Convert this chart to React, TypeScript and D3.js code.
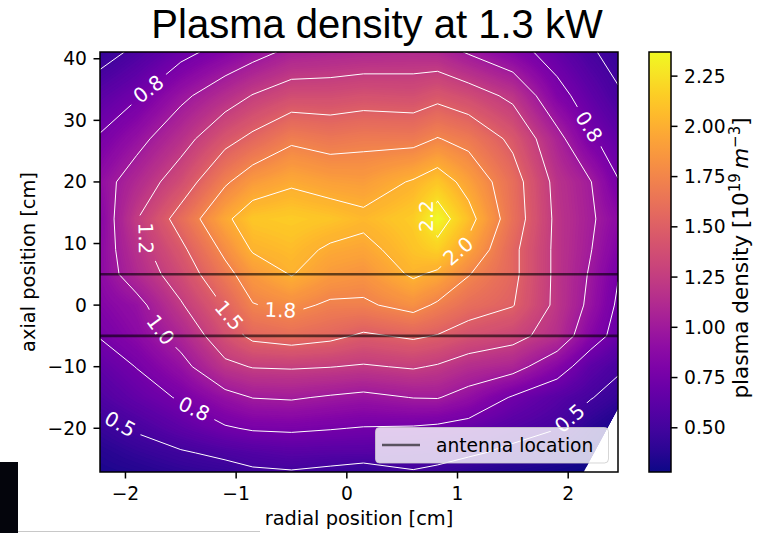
import React, { useMemo } from 'react';
import * as d3 from 'd3';

// ---------- data ----------
const xCols = [-2.23, -1.9, -1.5, -1.1, -0.85, -0.5, -0.15, 0.15, 0.6, 0.82, 1.1, 1.5, 1.9, 2.2, 2.45];
const yRows = [41.1, 34, 27, 20, 14, 9, 5, 0, -5, -10, -15, -20, -24, -27.1];
const density: number[][] = [
  [0.42, 0.54, 0.69, 0.83, 0.92, 1.05, 1.08, 1.10, 1.12, 1.10, 0.98, 0.83, 0.66, 0.52, 0.44],
  [0.62, 0.73, 0.95, 1.14, 1.26, 1.37, 1.37, 1.40, 1.38, 1.44, 1.36, 1.20, 0.82, 0.65, 0.52],
  [0.77, 0.93, 1.16, 1.43, 1.55, 1.71, 1.66, 1.69, 1.68, 1.76, 1.68, 1.45, 1.07, 0.78, 0.65],
  [0.91, 1.11, 1.37, 1.72, 1.88, 1.97, 1.91, 1.89, 2.02, 2.12, 1.92, 1.60, 1.18, 1.01, 0.76],
  [0.85, 1.24, 1.59, 1.96, 2.12, 2.15, 2.11, 2.05, 2.15, 2.37, 2.08, 1.62, 1.20, 1.03, 0.88],
  [0.88, 1.16, 1.45, 1.80, 2.02, 2.07, 1.97, 1.94, 2.10, 2.17, 1.93, 1.55, 1.20, 1.01, 0.82],
  [0.88, 1.11, 1.36, 1.68, 1.87, 2.01, 1.88, 1.84, 2.03, 1.96, 1.76, 1.55, 1.20, 0.98, 0.76],
  [0.83, 0.93, 1.23, 1.52, 1.74, 1.80, 1.72, 1.72, 1.82, 1.72, 1.60, 1.51, 1.20, 0.95, 0.72],
  [0.76, 0.87, 1.08, 1.39, 1.55, 1.60, 1.55, 1.47, 1.53, 1.49, 1.40, 1.32, 1.15, 0.85, 0.68],
  [0.65, 0.755, 0.93, 1.20, 1.26, 1.27, 1.255, 1.23, 1.27, 1.23, 1.14, 1.08, 0.85, 0.63, 0.53],
  [0.56, 0.66, 0.77, 0.93, 1.005, 1.02, 0.98, 0.95, 1.005, 1.01, 0.92, 0.73, 0.60, 0.51, 0.43],
  [0.44, 0.52, 0.63, 0.73, 0.77, 0.78, 0.76, 0.74, 0.73, 0.71, 0.67, 0.58, 0.505, 0.38, 0.30],
  [0.36, 0.42, 0.48, 0.54, 0.57, 0.60, 0.59, 0.59, 0.57, 0.56, 0.53, 0.45, 0.38, 0.32, 0.29],
  [0.32, 0.35, 0.40, 0.43, 0.475, 0.488, 0.46, 0.42, 0.49, 0.465, 0.39, 0.33, 0.30, 0.28, 0.28],
];
const contourLevels = [0.5, 0.75, 1.0, 1.25, 1.5, 1.75, 2.0, 2.25];
const contourLabelText = ['0.5', '0.8', '1.0', '1.2', '1.5', '1.8', '2.0', '2.2'];
const labelLevels = [0.75, 0.75, 1.25, 1.0, 1.5, 1.75, 2.25, 2.0, 0.75, 0.5, 0.5];
const labelX = [-1.78, 2.21, -1.81, -1.64, -1.06, -0.61, 0.67, 0.96, -1.39, -2.05, 1.97];
const labelY = [34.8, 29.2, 10.9, -3.6, -1.6, -1.6, 15.1, 9.7, -17.2, -19.4, -17.5];
const xTicks = [-2, -1, 0, 1, 2];
const yTicks = [-20, -10, 0, 10, 20, 30, 40];
const cbTicks = [0.5, 0.75, 1.0, 1.25, 1.5, 1.75, 2.0, 2.25];
const cbTickLabels = ['0.50', '0.75', '1.00', '1.25', '1.50', '1.75', '2.00', '2.25'];
const antennaY = [5, -5];
const hullX = [-2.23, 2.45, 2.45, 2.14, -2.23];
const hullY = [41.1, 41.1, -16.7, -27.1, -27.1];

const fmtTick = (v: number) => (v < 0 ? '\u2212' + Math.abs(v) : String(v));

type Pt = [number, number];

function chain(segs: [Pt, Pt][]): Pt[][] {
  const key = (p: Pt) => p[0].toFixed(3) + ',' + p[1].toFixed(3);
  const adj = new Map<string, number[]>();
  segs.forEach((s, k) => {
    for (const p of s) {
      const kk = key(p);
      if (!adj.has(kk)) adj.set(kk, []);
      adj.get(kk)!.push(k);
    }
  });
  const used = new Array(segs.length).fill(false);
  const lines: Pt[][] = [];
  const extend = (arr: Pt[]) => {
    for (;;) {
      const last = arr[arr.length - 1];
      const cands = (adj.get(key(last)) || []).filter((m) => !used[m]);
      if (!cands.length) break;
      const m = cands[0];
      used[m] = true;
      const s = segs[m];
      arr.push(key(s[0]) === key(last) ? s[1] : s[0]);
    }
  };
  for (let k = 0; k < segs.length; k++) {
    if (used[k]) continue;
    used[k] = true;
    const line: Pt[] = [segs[k][0], segs[k][1]];
    extend(line);
    line.reverse();
    extend(line);
    lines.push(line);
  }
  return lines;
}

export default function App() {
  const W = 758, H = 533;
  const m = { left: 100, right: 618, top: 52, bottom: 472 };
  const cb = { left: 649, right: 671 };
  const FS = 18.7;
  const LFS = 19.4;
  const CFS = 20;

  const xScale = d3.scaleLinear().domain([xCols[0], xCols[xCols.length - 1]]).range([m.left, m.right]);
  const yScale = d3.scaleLinear().domain([yRows[yRows.length - 1], yRows[0]]).range([m.bottom, m.top]);
  const flat = density.flat();
  const [cmin, cmax] = d3.extent(flat) as [number, number];
  const cScale = d3.scaleLinear().domain([cmin, cmax]).range([m.bottom, m.top]);

  const computed = useMemo(() => {
    const fi = d3.scaleLinear().domain(xCols).range(d3.range(xCols.length)).clamp(true);
    const fj = d3.scaleLinear().domain(yRows).range(d3.range(yRows.length)).clamp(true);
    const sample = (x: number, y: number) => {
      const a = fi(x), b = fj(y);
      const i = Math.min(Math.floor(a), xCols.length - 2);
      const j = Math.min(Math.floor(b), yRows.length - 2);
      const tx = a - i, ty = b - j;
      const v00 = density[j][i], v10 = density[j][i + 1], v01 = density[j + 1][i], v11 = density[j + 1][i + 1];
      return (1 - ty) * ((1 - tx) * v00 + tx * v10) + ty * ((1 - tx) * v01 + tx * v11);
    };
    const nxF = 259, nyF = 210;
    const x0 = xCols[0], x1 = xCols[xCols.length - 1];
    const yT = yRows[0], yB = yRows[yRows.length - 1];
    const vals = new Array(nxF * nyF);
    for (let r = 0; r < nyF; r++) {
      const y = yT - ((r + 0.5) * (yT - yB)) / nyF;
      for (let c = 0; c < nxF; c++) {
        const x = x0 + ((c + 0.5) * (x1 - x0)) / nxF;
        vals[r * nxF + c] = sample(x, y);
      }
    }
    const NB = 140;
    const thr = d3.range(NB).map((k) => cmin + ((cmax - cmin) * k) / NB);
    const polys = d3.contours().size([nxF, nyF]).thresholds(thr)(vals);
    const gx = d3.scaleLinear().domain([0, nxF]).range([m.left, m.right]);
    const gy = d3.scaleLinear().domain([0, nyF]).range([m.top, m.bottom]);
    const path = d3.geoPath(
      d3.geoTransform({
        point(x: number, y: number) {
          (this as any).stream.point(gx(x), gy(y));
        },
      })
    );
    const bands = polys.map((p, k) => ({
      d: path(p as any) || '',
      fill: d3.interpolatePlasma((k + 0.5) / NB),
    }));

    const px = xCols.map((v) => xScale(v));
    const py = yRows.map((v) => yScale(v));
    const linesByLevel = contourLevels.map((L) => {
      const segs: [Pt, Pt][] = [];
      for (let j = 0; j < yRows.length - 1; j++) {
        for (let i = 0; i < xCols.length - 1; i++) {
          const v00 = density[j][i], v10 = density[j][i + 1], v01 = density[j + 1][i], v11 = density[j + 1][i + 1];
          const X0 = px[i], X1 = px[i + 1], Y0 = py[j], Y1 = py[j + 1];
          const b00 = v00 >= L, b10 = v10 >= L, b01 = v01 >= L, b11 = v11 >= L;
          const ip = (xa: number, ya: number, va: number, xb: number, yb: number, vb: number): Pt => {
            const t = (L - va) / (vb - va);
            return [xa + t * (xb - xa), ya + t * (yb - ya)];
          };
          const top = b00 !== b10 ? ip(X0, Y0, v00, X1, Y0, v10) : null;
          const right = b10 !== b11 ? ip(X1, Y0, v10, X1, Y1, v11) : null;
          const bottom = b01 !== b11 ? ip(X0, Y1, v01, X1, Y1, v11) : null;
          const left = b00 !== b01 ? ip(X0, Y0, v00, X0, Y1, v01) : null;
          const pts = [top, right, bottom, left].filter(Boolean) as Pt[];
          if (pts.length === 2) segs.push([pts[0], pts[1]]);
          else if (pts.length === 4) {
            const cen = (v00 + v10 + v01 + v11) / 4 >= L;
            if (cen === b00) segs.push([top!, right!], [bottom!, left!]);
            else segs.push([top!, left!], [right!, bottom!]);
          }
        }
      }
      return chain(segs);
    });

    const labels = labelLevels.map((lv, n) => {
      const li = contourLevels.indexOf(lv);
      const tx = xScale(labelX[n]), ty = yScale(labelY[n]);
      let best = { d: Infinity, x: tx, y: ty, ang: 0 };
      for (const line of linesByLevel[li]) {
        for (let k = 0; k < line.length - 1; k++) {
          const a = line[k], b = line[k + 1];
          const dx = b[0] - a[0], dy = b[1] - a[1];
          const len2 = dx * dx + dy * dy || 1e-9;
          let t = ((tx - a[0]) * dx + (ty - a[1]) * dy) / len2;
          t = Math.max(0, Math.min(1, t));
          const qx = a[0] + t * dx, qy = a[1] + t * dy;
          const d = Math.hypot(qx - tx, qy - ty);
          if (d < best.d) {
            const p0 = line[Math.max(0, k - 1)], p1 = line[Math.min(line.length - 1, k + 2)];
            let ang = (Math.atan2(p1[1] - p0[1], p1[0] - p0[0]) * 180) / Math.PI;
            if (ang > 90) ang -= 180;
            if (ang < -90) ang += 180;
            best = { d, x: qx, y: qy, ang };
          }
        }
      }
      const text = contourLabelText[li];
      const tw = text.length * 0.53 * CFS + 2;
      return { ...best, text, tw };
    });

    return { bands, linesByLevel, labels };
  }, []);

  const hullPts = hullX.map((x, k) => `${xScale(x)},${yScale(hullY[k])}`).join(' ');
  const line = d3.line<Pt>();
  const gradStops = d3.range(0, 21).map((k) => ({ off: k / 20, c: d3.interpolatePlasma(k / 20) }));

  return (
    <svg
      width={W}
      height={H}
      style={{ position: 'absolute', left: 0, top: 0, background: '#fff' }}
      fontFamily="'DejaVu Sans', sans-serif"
    >
      <defs>
        <clipPath id="hull">
          <polygon points={hullPts} />
        </clipPath>
        <clipPath id="axes">
          <rect x={m.left} y={m.top} width={m.right - m.left} height={m.bottom - m.top} />
        </clipPath>
        <mask id="labelGaps" maskUnits="userSpaceOnUse" x={0} y={0} width={W} height={H}>
          <rect x={0} y={0} width={W} height={H} fill="#fff" />
          {computed.labels.map((l, k) => (
            <rect
              key={k}
              x={-l.tw / 2 - 6}
              y={-10}
              width={l.tw + 12}
              height={20}
              fill="#000"
              transform={`translate(${l.x},${l.y}) rotate(${l.ang})`}
            />
          ))}
        </mask>
        <linearGradient id="cbGrad" x1="0" y1="1" x2="0" y2="0">
          {gradStops.map((s, k) => (
            <stop key={k} offset={s.off} stopColor={s.c} />
          ))}
        </linearGradient>
      </defs>

      {/* title */}
      <text
        x={(m.left + m.right) / 2 + 18}
        y={38}
        textAnchor="middle"
        fontSize={40}
        fontFamily="'Liberation Sans', Arial, sans-serif"
        fill="#000"
      >
        Plasma density at 1.3 kW
      </text>

      {/* heatmap */}
      <g clipPath="url(#axes)">
        <g clipPath="url(#hull)">
          {computed.bands.map((b, k) => (
            <path key={k} d={b.d} fill={b.fill} stroke="none" />
          ))}
          <g mask="url(#labelGaps)">
            {computed.linesByLevel.map((lines, li) =>
              lines.map((ln, k) => (
                <path
                  key={li + '-' + k}
                  d={line(ln) || ''}
                  fill="none"
                  stroke="#fff"
                  strokeWidth={1}
                  strokeLinejoin="round"
                  strokeLinecap="round"
                />
              ))
            )}
          </g>
          {computed.labels.map((l, k) => (
            <text
              key={k}
              transform={`translate(${l.x},${l.y}) rotate(${l.ang})`}
              textAnchor="middle"
              dominantBaseline="central"
              fontSize={CFS}
              fill="#fff"
            >
              {l.text}
            </text>
          ))}
        </g>
        {antennaY.map((v, k) => (
          <line
            key={k}
            x1={m.left}
            x2={m.right}
            y1={yScale(v)}
            y2={yScale(v)}
            stroke="#000"
            strokeOpacity={0.6}
            strokeWidth={2.6}
          />
        ))}
      </g>

      {/* legend */}
      <g>
        <rect x={375.5} y={427.5} width={233} height={35.5} rx={4} fill="#fff" fillOpacity={0.8} stroke="#ccc" strokeOpacity={0.8} />
        <line x1={382} x2={420} y1={445} y2={445} stroke="#000" strokeOpacity={0.6} strokeWidth={2.6} />
        <text x={436} y={451.5} fontSize={FS} fill="#000">
          antenna location
        </text>
      </g>

      {/* axes frame */}
      <rect
        x={m.left}
        y={m.top}
        width={m.right - m.left}
        height={m.bottom - m.top}
        fill="none"
        stroke="#000"
        strokeWidth={1.5}
      />
      {xTicks.map((t) => (
        <g key={t}>
          <line x1={xScale(t)} x2={xScale(t)} y1={m.bottom} y2={m.bottom + 6.5} stroke="#000" strokeWidth={1.5} />
          <text x={xScale(t)} y={500} textAnchor="middle" fontSize={FS}>
            {fmtTick(t)}
          </text>
        </g>
      ))}
      {yTicks.map((t) => (
        <g key={t}>
          <line x1={m.left - 6.5} x2={m.left} y1={yScale(t)} y2={yScale(t)} stroke="#000" strokeWidth={1.5} />
          <text x={m.left - 13} y={yScale(t)} textAnchor="end" dominantBaseline="central" fontSize={FS}>
            {fmtTick(t)}
          </text>
        </g>
      ))}
      <text x={(m.left + m.right) / 2} y={525} textAnchor="middle" fontSize={LFS}>
        radial position [cm]
      </text>
      <text transform={`translate(35,${(m.top + m.bottom) / 2}) rotate(-90)`} textAnchor="middle" fontSize={LFS}>
        axial position [cm]
      </text>

      {/* colorbar */}
      <rect x={cb.left} y={m.top} width={cb.right - cb.left} height={m.bottom - m.top} fill="url(#cbGrad)" />
      <rect
        x={cb.left}
        y={m.top}
        width={cb.right - cb.left}
        height={m.bottom - m.top}
        fill="none"
        stroke="#000"
        strokeWidth={1.5}
      />
      {cbTicks.map((t, k) => (
        <g key={t}>
          <line x1={cb.right} x2={cb.right + 6.5} y1={cScale(t)} y2={cScale(t)} stroke="#000" strokeWidth={1.5} />
          <text x={cb.right + 13} y={cScale(t)} dominantBaseline="central" fontSize={FS}>
            {cbTickLabels[k]}
          </text>
        </g>
      ))}
      <text
        transform={`translate(748,${(m.top + m.bottom) / 2 - 4}) rotate(-90)`}
        textAnchor="middle"
        fontSize={21.5}
      >
        plasma density [10
        <tspan fontSize={15} dy={-8}>19</tspan>
        <tspan dy={8}>{'\u2009'}</tspan>
        <tspan fontStyle="italic">m</tspan>
        <tspan fontSize={15} dy={-8}>{'\u22123'}</tspan>
        <tspan dy={8}>]</tspan>
      </text>

      {/* page artefacts at the bottom-left of the reference */}
      <rect x={0} y={462} width={18} height={71} fill="#04050c" />
      <line x1={18} x2={260} y1={531.5} y2={531.5} stroke="#c8c8c8" strokeWidth={1.2} />
    </svg>
  );
}
